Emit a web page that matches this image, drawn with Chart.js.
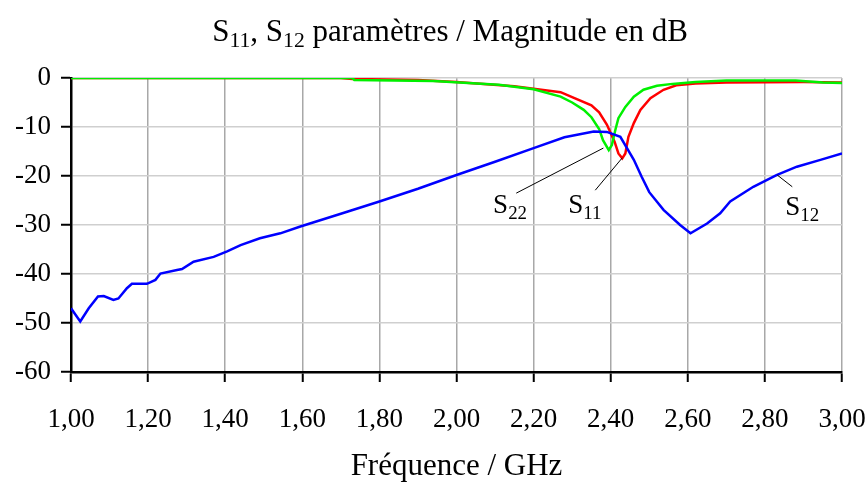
<!DOCTYPE html>
<html>
<head>
<meta charset="utf-8">
<script src="https://cdn.jsdelivr.net/npm/chart.js@4/dist/chart.umd.min.js"></script>
<style>
  html, body { margin: 0; padding: 0; background: #fff; }
  #wrap { width: 867px; height: 491px; }
</style>
</head>
<body>
<div id="wrap"><canvas id="chart" width="867" height="491"></canvas></div>
<script>
// frequencies (GHz) and magnitudes (dB)
var freqS12 = [1.00, 1.024, 1.046, 1.07, 1.085, 1.11, 1.123, 1.145, 1.158, 1.197, 1.219, 1.232, 1.275, 1.288, 1.318, 1.37, 1.405, 1.44, 1.49, 1.543, 1.595, 1.70, 1.80, 1.90, 2.00, 2.10, 2.20, 2.28, 2.356, 2.39, 2.425, 2.46, 2.48, 2.50, 2.537, 2.58, 2.607, 2.65, 2.684, 2.71, 2.77, 2.83, 2.883, 2.944, 3.00];
var s12 = [-47, -49.7, -47, -44.6, -44.5, -45.3, -45, -42.9, -42, -42, -41.2, -39.9, -39.2, -39, -37.5, -36.5, -35.4, -34.1, -32.7, -31.7, -30.3, -27.7, -25.2, -22.6, -19.8, -17.1, -14.3, -12.1, -10.9, -11.0, -12.0, -16.7, -20.1, -23.3, -26.9, -30, -31.7, -29.7, -27.6, -25.2, -22.2, -19.8, -18.1, -16.7, -15.4];

var freqS11 = [1.00, 1.70, 1.73, 1.90, 2.00, 2.07, 2.15, 2.22, 2.27, 2.30, 2.35, 2.37, 2.39, 2.41, 2.42, 2.43, 2.438, 2.446, 2.46, 2.477, 2.503, 2.537, 2.57, 2.62, 2.70, 2.90, 3.00];
var s11 = [0, 0, -0.2, -0.4, -0.8, -1.2, -1.7, -2.4, -2.9, -3.9, -5.6, -7.0, -9.5, -13, -15.4, -16.4, -15.4, -12, -9.2, -6.5, -4.1, -2.4, -1.5, -1.1, -0.9, -0.8, -0.9];

var freqS22 = [1.00, 1.73, 1.735, 1.94, 2.03, 2.11, 2.20, 2.27, 2.30, 2.33, 2.35, 2.37, 2.38, 2.395, 2.403, 2.412, 2.42, 2.438, 2.46, 2.485, 2.52, 2.56, 2.62, 2.70, 2.88, 2.95, 3.00];
var s22 = [0, 0, -0.4, -0.6, -1.0, -1.4, -2.3, -3.8, -5.0, -6.5, -8.0, -10.4, -12.7, -14.7, -13.7, -10.6, -8.2, -5.9, -3.8, -2.4, -1.6, -1.2, -0.8, -0.5, -0.5, -0.9, -1.0];

var xTicks = [1.0, 1.2, 1.4, 1.6, 1.8, 2.0, 2.2, 2.4, 2.6, 2.8, 3.0];
var yTicks = [0, -10, -20, -30, -40, -50, -60];

var FONT = "'Liberation Serif', 'Times New Roman', serif";

function pts(xs, ys) {
  return xs.map(function (x, i) { return { x: x, y: ys[i] }; });
}

// text with subscripts: parts = [[text, isSub], ...]
function richWidth(ctx, parts, size) {
  var w = 0;
  parts.forEach(function (p) {
    ctx.font = (p[1] ? size * 0.7 : size) + 'px ' + FONT;
    w += ctx.measureText(p[0]).width;
  });
  return w;
}
function drawRich(ctx, parts, x, y, size, align) {
  var w = richWidth(ctx, parts, size);
  if (align === 'center') x -= w / 2;
  ctx.textAlign = 'left';
  ctx.textBaseline = 'alphabetic';
  ctx.fillStyle = '#000';
  parts.forEach(function (p) {
    ctx.font = (p[1] ? size * 0.7 : size) + 'px ' + FONT;
    ctx.fillText(p[0], x, p[1] ? y + size * 0.2 : y);
    x += ctx.measureText(p[0]).width;
  });
}

// curve labels with leader lines, placed in data units
var labels = [
  { parts: [['S', 0], ['22', 1]], at: [2.095, -27.6], from: [2.155, -23.5], to: [2.381, -14.3] },
  { parts: [['S', 0], ['11', 1]], at: [2.29, -27.6], from: [2.36, -22.9], to: [2.43, -16.3] },
  { parts: [['S', 0], ['12', 1]], at: [2.853, -28.0], from: [2.871, -22.2], to: [2.832, -19.8] }
];

var decorations = {
  id: 'decorations',
  afterDraw: function (chart) {
    var ctx = chart.ctx, xs = chart.scales.x, ys = chart.scales.y;
    ctx.save();
    drawRich(ctx, [['S', 0], ['11', 1], [', S', 0], ['12', 1], [' paramètres / Magnitude en dB', 0]], 450, 41, 31, 'center');
    labels.forEach(function (l) {
      ctx.strokeStyle = '#000';
      ctx.lineWidth = 1;
      ctx.beginPath();
      ctx.moveTo(xs.getPixelForValue(l.from[0]), ys.getPixelForValue(l.from[1]));
      ctx.lineTo(xs.getPixelForValue(l.to[0]), ys.getPixelForValue(l.to[1]));
      ctx.stroke();
      drawRich(ctx, l.parts, xs.getPixelForValue(l.at[0]), ys.getPixelForValue(l.at[1]), 27, 'left');
    });
    ctx.restore();
  }
};

var ctx = document.getElementById('chart').getContext('2d');
var myChart = new Chart(ctx, {
  type: 'line',
  data: {
    datasets: [
      { label: 'S12', data: pts(freqS12, s12), borderColor: '#0000ff', borderWidth: 2.5 },
      { label: 'S22', data: pts(freqS22, s22), borderColor: '#00f000', borderWidth: 2.5 },
      { label: 'S11', data: pts(freqS11, s11), borderColor: '#ff0000', borderWidth: 2.5 }
    ]
  },
  options: {
    responsive: false,
    animation: false,
    layout: { padding: { top: 78, right: 25, left: 0, bottom: 0 } },
    elements: {
      point: { radius: 0 },
      line: { tension: 0, fill: false }
    },
    plugins: {
      legend: { display: false },
      tooltip: { enabled: false }
    },
    scales: {
      x: {
        type: 'linear',
        min: 1,
        max: 3,
        afterFit: function (s) { s.height = 119; s.paddingLeft = 0; s.paddingRight = 0; },
        afterBuildTicks: function (s) { s.ticks = xTicks.map(function (v) { return { value: v }; }); },
        ticks: {
          color: '#000',
          font: { family: FONT, size: 27 },
          padding: 22,
          maxRotation: 0,
          callback: function (v) { return v.toFixed(2).replace('.', ','); }
        },
        grid: { color: '#a8a8a8', lineWidth: 1.5, tickColor: '#000', tickLength: 10, tickWidth: 2 },
        border: { color: '#000', width: 2.5 },
        title: {
          display: true,
          text: 'Fréquence / GHz',
          color: '#000',
          font: { family: FONT, size: 31 },
          padding: { top: 0, bottom: 6 }
        }
      },
      y: {
        min: -60,
        max: 0,
        afterFit: function (s) { s.width = 71; s.paddingTop = 0; s.paddingBottom = 0; },
        afterBuildTicks: function (s) { s.ticks = yTicks.map(function (v) { return { value: v }; }); },
        ticks: {
          color: '#000',
          font: { family: FONT, size: 27 },
          padding: 10
        },
        grid: { color: '#cfcfcf', lineWidth: 1.5, tickColor: '#000', tickLength: 10, tickWidth: 2 },
        border: { color: '#000', width: 2.5 }
      }
    }
  },
  plugins: [decorations]
});
</script>
</body>
</html>
